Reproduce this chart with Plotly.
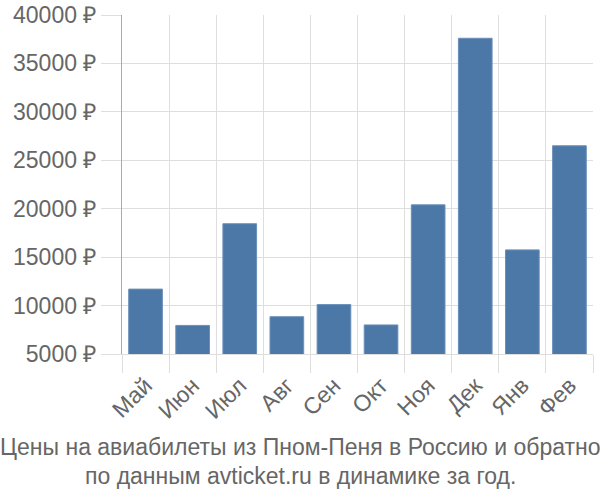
import plotly.graph_objects as go

months = ["Май", "Июн", "Июл", "Авг", "Сен", "Окт", "Ноя", "Дек", "Янв", "Фев"]
prices = [11700, 7950, 18450, 8850, 10100, 8000, 20400, 37600, 15750, 26500]
y_ticks = [5000, 10000, 15000, 20000, 25000, 30000, 35000, 40000]
y_labels = [f"{v} ₽" for v in y_ticks]
title_lines = ["Цены на авиабилеты из Пном-Пеня в Россию и обратно",
               "по данным avticket.ru в динамике за год."]

font_family = "Liberation Sans, Arial, sans-serif"
grid = "#dedede"
text_col = "#666666"
fs = 23

W, H = 600, 500
L, R, T, B = 122, 7, 15, 146
plot_w = W - L - R
plot_h = H - T - B

fig = go.Figure(go.Bar(
    x=months, y=prices,
    marker=dict(color="#4c78a8", line=dict(color="#6a8fba", width=1)),
))

title_centers_px = [447, 476]
annotations = []
for line, cy in zip(title_lines, title_centers_px):
    annotations.append(dict(
        text=line, showarrow=False,
        xref="paper", yref="paper",
        x=(W / 2 - L) / plot_w, y=(H - B - cy) / plot_h,
        xanchor="center", yanchor="middle",
        font=dict(family=font_family, size=fs, color=text_col),
    ))

fig.update_layout(
    width=W, height=H,
    margin=dict(l=L, r=R, t=T, b=B),
    plot_bgcolor="white", paper_bgcolor="white",
    bargap=0.285,
    showlegend=False,
    font=dict(family=font_family, size=fs, color=text_col),
    annotations=annotations,
    xaxis=dict(
        type="category",
        automargin=False,
        tickson="boundaries",
        showgrid=True, gridcolor=grid, gridwidth=1,
        ticks="outside", ticklen=18, tickcolor=grid, tickwidth=1,
        tickangle=-45,
        ticklabelstandoff=8,
        showline=True, linecolor=grid, linewidth=1,
        tickfont=dict(family=font_family, size=fs, color=text_col),
    ),
    yaxis=dict(
        automargin=False,
        range=[5000, 40000],
        tickvals=y_ticks, ticktext=y_labels,
        showgrid=True, gridcolor=grid, gridwidth=1,
        ticks="outside", ticklen=20, tickcolor=grid, tickwidth=1,
        showline=True, linecolor="#aaaaaa", linewidth=1,
        zeroline=False,
        tickfont=dict(family=font_family, size=fs, color=text_col),
    ),
)

fig.write_html(
    "out.html",
    config={"displayModeBar": False},
    post_script="document.body.style.margin='0';document.body.style.overflow='hidden';",
)
